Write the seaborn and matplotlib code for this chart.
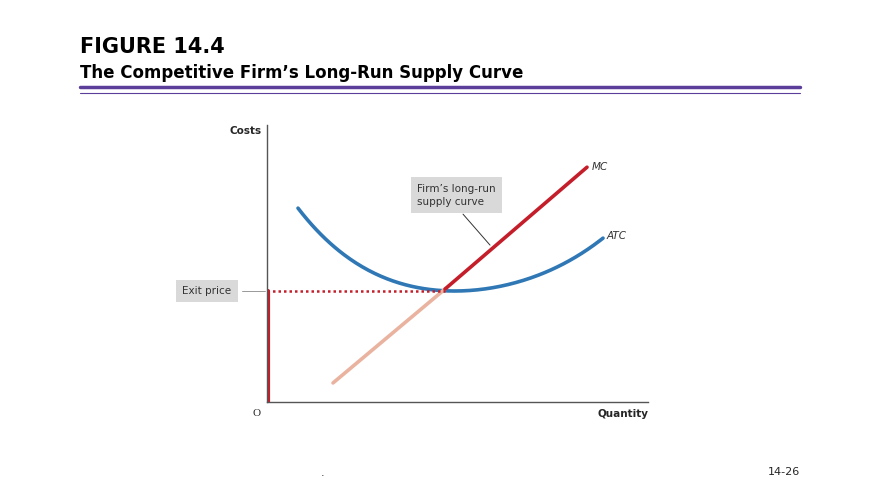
import matplotlib
matplotlib.use("Agg")
import matplotlib.pyplot as plt
import seaborn as sns
import numpy as np

atc_x = [31, 45, 60, 78, 93, 110, 126, 145, 160, 178, 195, 213, 238, 263, 283, 303, 320, 336]
atc_y = [195, 176, 161, 147, 137, 128, 121, 116, 113, 111, 111, 112, 117, 124, 132, 142, 152, 164]
mc_lo_x = [66, 178]
mc_lo_y = [19, 113]
mc_hi_x = [178, 320]
mc_hi_y = [113, 235]
exit_price = 111

sns.set_theme(style="white")
fig = plt.figure(figsize=(8.8, 4.95), dpi=100)
ax = fig.add_axes([0.3034, 0.188, 0.433, 0.559])

# smooth ATC through the read points
cs = np.polyfit(atc_x, atc_y, 4)
xs = np.linspace(atc_x[0], atc_x[-1], 200)
sns.lineplot(x=xs, y=np.polyval(cs, xs), ax=ax, color="#2f78b5", lw=2.6)
sns.lineplot(x=mc_lo_x, y=mc_lo_y, ax=ax, color="#eab3a0", lw=2.6)
sns.lineplot(x=mc_hi_x, y=mc_hi_y, ax=ax, color="#c41e2a", lw=2.6)
ax.plot([0, 178], [exit_price, exit_price], color="#c41e2a", lw=1.8, ls=(0, (1, 1.2)))
ax.plot([1.5, 1.5], [0, exit_price], color="#c41e2a", lw=3)

ax.set_xlim(0, 381)
ax.set_ylim(0, 277)
ax.set_xticks([]); ax.set_yticks([])
for s in ["top", "right"]:
    ax.spines[s].set_visible(False)
for s in ["left", "bottom"]:
    ax.spines[s].set_color("#555555"); ax.spines[s].set_linewidth(1)

ax.text(-5, 271, "Costs", ha="right", va="center", fontsize=7.5, fontweight="bold")
ax.text(381, -12, "Quantity", ha="right", va="center", fontsize=7.5, fontweight="bold")
ax.text(-10, -12, "O", ha="center", va="center", fontsize=8, family="Liberation Serif")
ax.text(325, 235, "MC", ha="left", va="center", fontsize=7.5, style="italic", color="#333")
ax.text(340, 166, "ATC", ha="left", va="center", fontsize=7.5, style="italic", color="#333")
ax.text(150, 207, "Firm’s long-run\nsupply curve", ha="left", va="center", fontsize=7.5, color="#333",
        linespacing=1.4, bbox=dict(boxstyle="square,pad=0.6", fc="#d9d9d9", ec="none"))
ax.plot([196, 223], [188, 157], color="#333", lw=0.7)
ax.text(-60, exit_price, "Exit price", ha="center", va="center", fontsize=7.5, color="#333",
        bbox=dict(boxstyle="square,pad=0.6", fc="#d9d9d9", ec="none"), clip_on=False)
ax.plot([-25, -2], [exit_price, exit_price], color="#999", lw=0.7, clip_on=False)

fig.text(80/880, 1-47/495, "FIGURE 14.4", fontsize=15, fontweight="bold", va="center", color="black")
fig.text(80/880, 1-73/495, "The Competitive Firm’s Long-Run Supply Curve", fontsize=12, fontweight="bold", va="center", color="black")
fig.add_artist(plt.Line2D([80/880, 800/880], [1-87/495]*2, color="#5a3e9a", lw=2.5))
fig.add_artist(plt.Line2D([80/880, 800/880], [1-93/495]*2, color="#5a3e9a", lw=0.8))
fig.text(323/880, 1-473/495, ".", fontsize=8, ha="center", va="center")
fig.text(800/880, 1-472/495, "14-26", fontsize=8, ha="right", va="center")

fig.savefig("out.png", dpi=100)
